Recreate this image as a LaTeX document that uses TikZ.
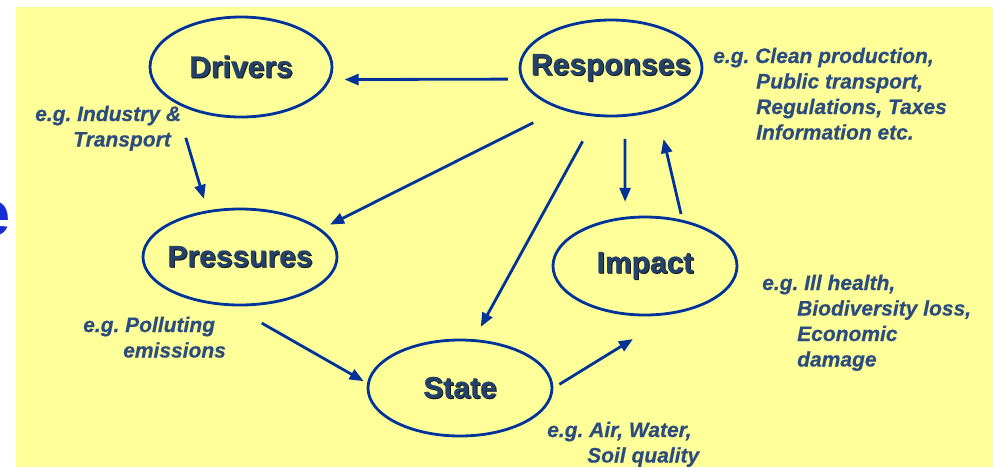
\documentclass[tikz,border=0pt]{standalone}
\usepackage{fontspec}
\setmainfont{Liberation Sans}
\newfontfamily\heavysans{Liberation Sans Bold}[FakeBold=0.6]
\newfontfamily\heavynote{Liberation Sans Bold Italic}[FakeBold=0.5]
\usetikzlibrary{arrows.meta,shapes.geometric}
\definecolor{bgyellow}{RGB}{255,255,153}
\definecolor{linkblue}{RGB}{0,51,153}
\definecolor{labelblue}{RGB}{35,65,105}
\definecolor{shadowc}{RGB}{20,25,35}
\definecolor{noteblue}{RGB}{43,76,126}
\definecolor{titleblue}{RGB}{25,45,215}
\frenchspacing
\newcommand\shadowlabel[1]{\raisebox{-3pt}{\makebox[0pt]{\rlap{\kern1pt\raisebox{-1pt}{\color{shadowc}#1}}#1}}}
\begin{document}
\begin{tikzpicture}[x=1pt,y=-1pt,
  stage/.style={draw=linkblue, line width=2.8pt, ellipse, inner sep=0pt, text=labelblue,
    font=\fontsize{30}{34}\selectfont\heavysans},
  note/.style={anchor=base west, inner sep=0pt, text=noteblue,
    font=\fontsize{21}{25.5}\selectfont\heavynote},
  link/.style={draw=linkblue, line width=2.8pt, -{Triangle[length=14pt,width=11pt]}}
]
\useasboundingbox (0,0) rectangle (993,467);
\fill[white] (0,0) rectangle (993,467);
\fill[bgyellow] (16,7) rectangle (993,467);

\node[anchor=base east, inner sep=0pt, text=titleblue, font=\fontsize{63}{70}\selectfont\bfseries] (titlee) at (11,235) {e};

\node[stage, minimum width=182pt, minimum height=100pt] (drv) at (241,67) {\shadowlabel{Drivers}};
\node[stage, minimum width=182pt, minimum height=96pt] (resp) at (611,68) {\shadowlabel{Responses}};
\node[stage, minimum width=194pt, minimum height=96pt] (pres) at (240,257) {\shadowlabel{Pressures}};
\node[stage, minimum width=184pt, minimum height=96pt] (state) at (460,388) {\shadowlabel{State}};
\node[stage, minimum width=184pt, minimum height=98pt] (imp) at (645,266) {\shadowlabel{Impact}};

\node[note] (respnote) at (713,63) {\begin{tabular}[t]{@{}l@{}}e.g. Clean production,\\\hspace*{43pt}Public transport,\\\hspace*{43pt}Regulations, Taxes\\\hspace*{43pt}Information etc.\end{tabular}};
\node[note] (drvnote) at (35,121) {\begin{tabular}[t]{@{}l@{}}e.g. Industry \&\\\hspace*{38pt}Transport\end{tabular}};
\node[note] (presnote) at (83,332) {\begin{tabular}[t]{@{}l@{}}e.g. Polluting\\\hspace*{40pt}emissions\end{tabular}};
\node[note] (impnote) at (762,290) {\begin{tabular}[t]{@{}l@{}}e.g. Ill health,\\\hspace*{35pt}Biodiversity loss,\\\hspace*{35pt}Economic\\\hspace*{35pt}damage\end{tabular}};
\node[note] (statenote) at (547,437) {\begin{tabular}[t]{@{}l@{}}e.g. Air, Water,\\\hspace*{40pt}Soil quality\end{tabular}};

\draw[link, shorten <=13pt, shorten >=14pt] (resp.187.8) -- (drv.-8.4);
\draw[link, shorten <=36pt, shorten >=12pt] (drv.209.2) -- (pres.125);
\draw[link, shorten <=30pt, shorten >=10pt] (resp.219.6) -- (pres.19.3);
\draw[link, shorten <=28pt, shorten >=14pt] (resp.253) -- (state.74.5);
\draw[link, shorten <=22pt, shorten >=15pt] (resp.286.5) -- (imp.112.7);
\draw[link, shorten <=6pt, shorten >=29pt] (imp.51.1) -- (resp.317.8);
\draw[link, shorten <=34pt, shorten >=4pt] (pres.261.2) -- (state.177.4);
\draw[link, shorten <=7pt, shorten >=48pt] (state.-0.5) -- (imp.301.5);
\end{tikzpicture}
\end{document}
